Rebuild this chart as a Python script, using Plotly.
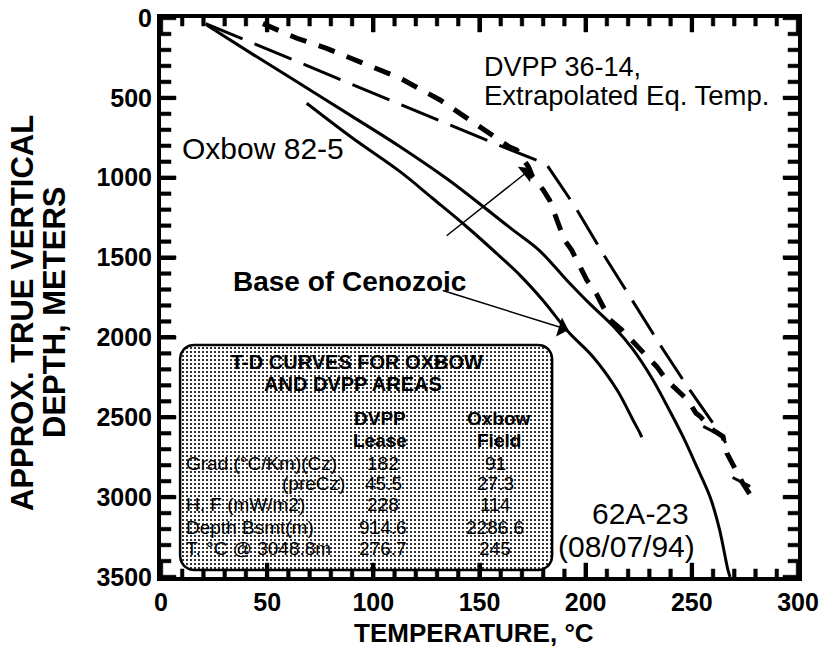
import numpy as np
import plotly.graph_objects as go

# ---------------- data ----------------
# 62A-23 (08/07/94) - long solid curve
t_62a23 = [21.5, 44, 67, 90, 112.6, 135, 155, 166, 178, 191, 202, 213, 222, 231.7, 238, 245.9, 252, 258.6, 263, 267, 268]
d_62a23 = [44, 234, 424, 616, 806, 1010, 1215, 1330, 1453, 1640, 1790, 1930, 2070, 2266, 2420, 2623, 2800, 2999, 3200, 3456, 3500]

# Oxbow 82-5 - short solid curve
t_oxbow = [68.6, 90, 112.6, 128, 144, 159.7, 169, 180, 191.9, 203.5, 214.8, 222.4, 225.6, 226.4]
d_oxbow = [534, 750, 962, 1130, 1307, 1494, 1610, 1770, 1966, 2122, 2329, 2520, 2600, 2625]

# DVPP 36-14 extrapolated equilibrium temperature - long dashes
t_dvpp_ext = [21, 58.4, 107, 130, 155, 181.5, 195, 208, 222, 236, 249, 260, 266]
d_dvpp_ext = [35, 242, 507, 639, 774, 915, 1181, 1472, 1766, 2066, 2329, 2537, 2660]

# DVPP 36-14 - heavy short dashes
t_dvpp = [48, 64, 78, 91, 104.6, 112.6, 131.4, 138.5, 144, 151, 156, 161, 164, 167.5, 170.6, 173, 175, 180, 183, 186, 188,
          190, 193.4, 197.3, 200.5, 205, 208, 211.5, 217, 223, 227, 233.5, 238, 243, 248, 252, 254, 260, 264.7,
          266.5, 272.7, 274, 280]
d_dvpp = [35, 127, 190, 263, 336, 377, 513, 576, 628, 690, 732, 770, 806, 826, 880, 930, 994, 1077, 1140, 1244, 1307,
          1390, 1453, 1557, 1640, 1725, 1808, 1891, 1953, 2035, 2098, 2183, 2266, 2329, 2391, 2475, 2496, 2580, 2621,
          2725, 2892, 2913, 3038]

# cross marks on the DVPP curve
t_cross = [273.3, 259.5]
d_cross = [2905, 2585]

# Base of Cenozoic arrows: tip (T, D) and tail (T, D)
arrow_tip_t = [174.6, 191.9]
arrow_tip_d = [941, 1953]
arrow_tail_t = [133.8, 132.0]
arrow_tail_d = [1371, 1703]

# table
table_title = ["T-D CURVES FOR OXBOW", "AND DVPP AREAS"]
col_heads = [["DVPP", "Lease"], ["Oxbow", "Field"]]
row_labels = ["Grad.(°C/Km)(Cz)", "(preCz)", "H. F (mW/m2)", "Depth Bsmt(m)", "T. °C @ 3048.8m"]
dvpp_vals = ["182", "45.5", "228", "914.6", "276.7"]
oxbow_vals = ["91", "27.3", "114", "2286.6", "245"]

x_major, x_minor = 50, 10
y_major, y_minor = 500, 100

# ---------------- layout constants ----------------
OFF = 8                      # default page body margin
PAGE_W, PAGE_H = 833, 648
PL, PR, PT, PB = 161, 798, 18, 577     # plot area on the page
W, H = PAGE_W - OFF, PAGE_H - OFF
ML, MT = PL - OFF, PT - OFF
MR, MB = PAGE_W - PR, PAGE_H - PB
PW, PH = PR - PL, PB - PT
XR = (0, 300)
YR = (3500, 0)
kx = PW / (XR[1] - XR[0])        # px per degC
ky = PH / (YR[0] - YR[1])        # px per m

FONT = "Liberation Sans, Arial, sans-serif"

fig = go.Figure()

# table box (rounded rectangle with stipple)
bx0, bx1, by0, by1 = 9.0, 184.2, 2047, 3456
r_px = 14
rx, ry = r_px / kx, r_px / ky
th = np.linspace(0, np.pi / 2, 12)
corners = [
    (bx1 - rx, by0 + ry, np.pi * 1.5),
    (bx1 - rx, by1 - ry, 0.0),
    (bx0 + rx, by1 - ry, np.pi * 0.5),
    (bx0 + rx, by0 + ry, np.pi),
]
px_, py_ = [], []
for cx, cy, a0 in corners:
    a = a0 + th
    px_.extend(cx + rx * np.cos(a))
    py_.extend(cy + ry * np.sin(a))
px_.append(px_[0]); py_.append(py_[0])
fig.add_trace(go.Scatter(x=px_, y=py_, mode="lines", fill="toself",
                         fillpattern=dict(shape=".", fgcolor="black", bgcolor="white", size=4, solidity=0.22),
                         line=dict(color="black", width=2.5), hoverinfo="skip", showlegend=False))

# inward ticks on all four sides drawn as small filled bars, one trace per bar
HW = 1.8   # half tick width in px


def tick_bar(xs, ys):
    fig.add_trace(go.Scatter(x=xs, y=ys, mode="lines", fill="toself", fillcolor="black",
                             line=dict(color="black", width=0.5), hoverinfo="skip", showlegend=False))


for T in range(XR[0], XR[1] + 1, x_minor):
    L = (14 if T % x_major == 0 else 8) / ky
    h = HW / kx
    for base, sgn in ((YR[0], -1), (YR[1], 1)):
        tick_bar([T - h, T + h, T + h, T - h, T - h], [base, base, base + sgn * L, base + sgn * L, base])
for D in range(YR[1], YR[0] + 1, y_minor):
    L = (15 if D % y_major == 0 else 10) / kx
    h = HW / ky
    for base, sgn in ((XR[0], 1), (XR[1], -1)):
        tick_bar([base, base + sgn * L, base + sgn * L, base, base], [D - h, D - h, D + h, D + h, D - h])

fig.add_trace(go.Scatter(x=t_62a23, y=d_62a23, mode="lines", line=dict(color="black", width=3),
                         line_shape="spline", showlegend=False))
fig.add_trace(go.Scatter(x=t_oxbow, y=d_oxbow, mode="lines", line=dict(color="black", width=3),
                         line_shape="spline", showlegend=False))
fig.add_trace(go.Scatter(x=t_dvpp_ext, y=d_dvpp_ext, mode="lines",
                         line=dict(color="black", width=3, dash="40px,13px"), showlegend=False))
fig.add_trace(go.Scatter(x=t_dvpp, y=d_dvpp, mode="lines",
                         line=dict(color="black", width=5, dash="17px,13px"), showlegend=False))
fig.add_trace(go.Scatter(x=t_cross, y=d_cross, mode="markers",
                         marker=dict(symbol="line-ew", size=14, angle=27, line=dict(color="black", width=3)),
                         showlegend=False))

ann = []
def txt(x, y, s, size, bold=False, xanchor="center", xref="x", yref="y", angle=0):
    ann.append(dict(x=x, y=y, xref=xref, yref=yref, text=s, showarrow=False, xanchor=xanchor, yanchor="middle",
                    textangle=angle, borderpad=0,
                    font=dict(family=FONT, size=size, color="black", weight="bold" if bold else "normal")))

def px2t(x):
    return (x - PL) / kx

def px2d(y):
    return (y - PT) / ky

# curve labels
txt(px2t(181), px2d(148), "Oxbow 82-5", 30, xanchor="left")
txt(px2t(483), px2d(67), "DVPP 36-14,", 27, xanchor="left")
txt(px2t(483), px2d(95), "Extrapolated Eq. Temp.", 27.5, xanchor="left")
txt(px2t(467), px2d(281), "Base of Cenozoic", 28, bold=True, xanchor="right")
txt(px2t(640), px2d(513), "62A-23", 30)
txt(px2t(626), px2d(546), "(08/07/94)", 30)

# table text
txt(px2t(357), px2d(362), table_title[0], 20, bold=True)
txt(px2t(353), px2d(384), table_title[1], 20, bold=True)
for i, (a, b) in enumerate(col_heads):
    cx = [380, 499][i]
    txt(px2t(cx), px2d(418), a, 19, bold=True)
    txt(px2t(cx), px2d(440), b, 19, bold=True)
row_y = [463, 483, 504, 527, 548]
for i, lab in enumerate(row_labels):
    if lab.startswith("(pre"):
        txt(px2t(346), px2d(row_y[i]), lab, 19, xanchor="right")
    else:
        txt(px2t(185), px2d(row_y[i]), lab, 19, xanchor="left")
    txt(px2t(383), px2d(row_y[i]), dvpp_vals[i], 19)
    txt(px2t(495), px2d(row_y[i]), oxbow_vals[i], 19)

# axis titles (positions given in page pixels)
txt((474 - PL) / PW, (PB - 633) / PH, "TEMPERATURE, °C", 26, bold=True, xref="paper", yref="paper")
txt((22 - PL) / PW, (PB - 313) / PH, "APPROX. TRUE VERTICAL", 31, bold=True, xref="paper", yref="paper", angle=-90)
txt((54 - PL) / PW, (PB - 313) / PH, "DEPTH, METERS", 31, bold=True, xref="paper", yref="paper", angle=-90)

for i in range(len(arrow_tip_t)):
    ann.append(dict(x=arrow_tip_t[i], y=arrow_tip_d[i], ax=arrow_tail_t[i], ay=arrow_tail_d[i],
                    xref="x", yref="y", axref="x", ayref="y", text="", showarrow=True,
                    arrowhead=1, arrowsize=2.2, arrowwidth=1.5, arrowcolor="black", standoff=0))

axis_common = dict(showline=True, linecolor="black", linewidth=4, mirror="ticks", ticks="inside",
                   ticklen=14, tickwidth=3.5, tickcolor="black",
                   showgrid=False, zeroline=False, automargin=False, ticklabeloverflow="allow",
                   tickfont=dict(family=FONT, size=25, color="black", weight="bold"))

fig.update_layout(
    template="none",
    width=W, height=H, margin=dict(l=ML, r=MR, t=MT, b=MB, pad=0),
    paper_bgcolor="white", plot_bgcolor="white", showlegend=False,
    xaxis=dict(range=list(XR), tickmode="linear", tick0=0, dtick=x_major, **axis_common),
    yaxis=dict(range=list(YR), tickmode="linear", tick0=0, dtick=y_major, **axis_common),
    annotations=ann,
)

fig.write_html("out.html")
